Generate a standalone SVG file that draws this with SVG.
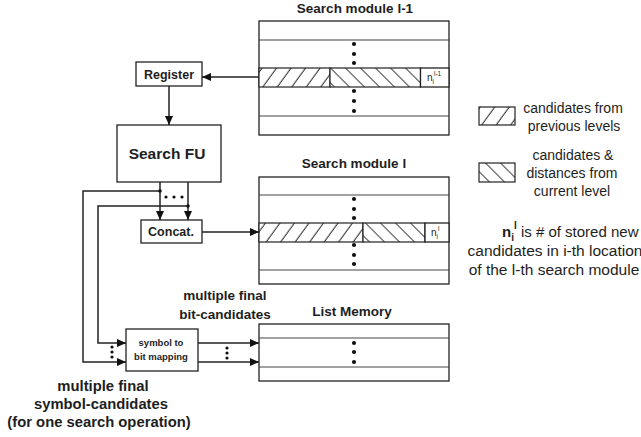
<svg xmlns="http://www.w3.org/2000/svg" width="641" height="437" viewBox="0 0 641 437">
  <style>
    .ln { fill: none; stroke: #222; stroke-width: 1.5; }
    .row { fill: none; stroke: #444; stroke-width: 1.2; }
    .box { fill: #fff; stroke: #222; stroke-width: 1.3; }
    .b { font-family: "Liberation Sans", Arial, sans-serif; font-weight: bold; fill: #1e1e1e; }
    .r { font-family: "Liberation Sans", Arial, sans-serif; fill: #1e1e1e; }
    .dot { fill: #111; }
    .hf { fill: url(#hatchFwd); stroke: #222; stroke-width: 1.2; }
    .hb { fill: url(#hatchBack); stroke: #222; stroke-width: 1.2; }
  </style>
  <defs>
    <pattern id="hatchFwd" patternUnits="userSpaceOnUse" width="14.5" height="20" patternTransform="skewX(-36)">
      <rect width="14.5" height="20" fill="#fff"/>
      <line x1="7" y1="0" x2="7" y2="20" stroke="#222" stroke-width="1.2"/>
    </pattern>
    <pattern id="hatchBack" patternUnits="userSpaceOnUse" width="15" height="20" patternTransform="skewX(45)">
      <rect width="15" height="20" fill="#fff"/>
      <line x1="7.5" y1="0" x2="7.5" y2="20" stroke="#222" stroke-width="1.2"/>
    </pattern>
    <marker id="arr" viewBox="0 0 10 10" refX="10" refY="5" markerWidth="9" markerHeight="8" markerUnits="userSpaceOnUse" orient="auto" preserveAspectRatio="none">
      <path d="M0,0 L10,5 L0,10 Z" fill="#111"/>
    </marker>
  </defs>

  <!-- Search module l-1 -->
  <g id="module-prev">
    <text class="b" x="355" y="13" font-size="13.5" text-anchor="middle">Search module l-1</text>
    <rect class="box" x="259" y="21" width="190" height="114"/>
    <line class="row" x1="259" y1="40" x2="449" y2="40"/>
    <line class="row" x1="259" y1="116" x2="449" y2="116"/>
    <rect class="hf" x="259" y="68" width="71" height="19"/>
    <rect class="hb" x="330" y="68" width="90.5" height="19"/>
    <rect class="box" x="420.5" y="68" width="28.5" height="19" stroke-width="1.2"/>
    <text class="r" x="427" y="81" font-size="10" fill="#444">n<tspan font-size="6.5" dy="2.5">i</tspan><tspan font-size="6.5" dy="-8">l-1</tspan></text>
    <circle class="dot" cx="354" cy="44" r="2.1"/>
    <circle class="dot" cx="354" cy="54" r="2.1"/>
    <circle class="dot" cx="354" cy="63" r="2.1"/>
    <circle class="dot" cx="354" cy="91" r="2.1"/>
    <circle class="dot" cx="354" cy="101" r="2.1"/>
    <circle class="dot" cx="354" cy="111" r="2.1"/>
  </g>

  <!-- Search module l -->
  <g id="module-cur">
    <text class="b" x="354" y="168" font-size="13.5" text-anchor="middle">Search module l</text>
    <rect class="box" x="259" y="177" width="190" height="107"/>
    <line class="row" x1="259" y1="195" x2="449" y2="195"/>
    <line class="row" x1="259" y1="270" x2="449" y2="270"/>
    <rect class="hf" x="259" y="223" width="104" height="19"/>
    <rect class="hb" x="363" y="223" width="62" height="19"/>
    <rect class="box" x="425" y="223" width="24" height="19" stroke-width="1.2"/>
    <text class="r" x="431" y="236" font-size="10" fill="#444">n<tspan font-size="6.5" dy="2.5">i</tspan><tspan font-size="6.5" dy="-8">l</tspan></text>
    <circle class="dot" cx="354" cy="199" r="2.1"/>
    <circle class="dot" cx="354" cy="209" r="2.1"/>
    <circle class="dot" cx="354" cy="218" r="2.1"/>
    <circle class="dot" cx="354" cy="245" r="2.1"/>
    <circle class="dot" cx="354" cy="255" r="2.1"/>
    <circle class="dot" cx="354" cy="264" r="2.1"/>
  </g>

  <!-- List memory -->
  <g id="list-memory">
    <text class="b" x="352" y="316" font-size="13.5" text-anchor="middle">List Memory</text>
    <rect class="box" x="259" y="324" width="190" height="57"/>
    <line class="row" x1="259" y1="338" x2="449" y2="338"/>
    <line class="row" x1="259" y1="367" x2="449" y2="367"/>
    <circle class="dot" cx="354" cy="343" r="2.1"/>
    <circle class="dot" cx="354" cy="352" r="2.1"/>
    <circle class="dot" cx="354" cy="362" r="2.1"/>
  </g>

  <g id="register">
    <rect class="box" x="136" y="62" width="66" height="24"/>
    <text class="b" x="169" y="78.5" font-size="12.5" text-anchor="middle">Register</text>
  </g>

  <g id="search-fu">
    <rect class="box" x="117" y="125" width="104" height="57"/>
    <text class="b" x="167" y="159" font-size="15.5" text-anchor="middle">Search FU</text>
  </g>

  <g id="concat">
    <rect class="box" x="141" y="220" width="61" height="23"/>
    <text class="b" x="171" y="235.5" font-size="12.5" text-anchor="middle">Concat.</text>
  </g>

  <g id="symbol-to-bit">
    <rect class="box" x="126" y="329" width="72" height="42"/>
    <text class="b" x="161" y="346" font-size="9.5" text-anchor="middle">symbol to</text>
    <text class="b" x="161" y="359.5" font-size="9.5" text-anchor="middle">bit mapping</text>
  </g>

  <!-- Connectors -->
  <g id="connectors">
    <line class="ln" x1="259" y1="77" x2="202" y2="77" stroke-width="1.9" marker-end="url(#arr)"/>
    <line class="ln" x1="169" y1="86" x2="169" y2="125" stroke-width="1.9" marker-end="url(#arr)"/>
    <line class="ln" x1="160" y1="182" x2="160" y2="220" stroke-width="1.2" marker-end="url(#arr)"/>
    <line class="ln" x1="188" y1="182" x2="188" y2="220" stroke-width="1.2" marker-end="url(#arr)"/>
    <polyline class="ln" points="160,191 83,191 83,362 126,362" stroke-width="1.2" marker-end="url(#arr)"/>
    <polyline class="ln" points="188,206 98,206 98,343 126,343" stroke-width="1.2" marker-end="url(#arr)"/>
    <circle class="dot" cx="160" cy="191" r="1.8"/>
    <circle class="dot" cx="188" cy="206" r="1.8"/>
    <circle class="dot" cx="166" cy="197" r="1.6"/>
    <circle class="dot" cx="174" cy="197" r="1.6"/>
    <circle class="dot" cx="182" cy="197" r="1.6"/>
    <line class="ln" x1="202" y1="232" x2="259" y2="232" stroke-width="1.9" marker-end="url(#arr)"/>
    <line class="ln" x1="198" y1="343" x2="259" y2="343" stroke-width="1.2" marker-end="url(#arr)"/>
    <line class="ln" x1="198" y1="362" x2="259" y2="362" stroke-width="1.2" marker-end="url(#arr)"/>
    <circle class="dot" cx="112" cy="347" r="1.6"/>
    <circle class="dot" cx="112" cy="352" r="1.6"/>
    <circle class="dot" cx="112" cy="357" r="1.6"/>
    <circle class="dot" cx="227" cy="348" r="1.6"/>
    <circle class="dot" cx="227" cy="353" r="1.6"/>
    <circle class="dot" cx="227" cy="358" r="1.6"/>
  </g>

  <!-- Labels -->
  <g id="bit-label">
    <text class="b" x="225" y="300" font-size="13.5" text-anchor="middle">multiple final</text>
    <text class="b" x="225" y="319" font-size="13.5" text-anchor="middle">bit-candidates</text>
  </g>
  <g id="symbol-label">
    <text class="b" x="103" y="391" font-size="14.8" text-anchor="middle">multiple final</text>
    <text class="b" x="101" y="409" font-size="14.8" text-anchor="middle">symbol-candidates</text>
    <text class="b" x="99" y="427" font-size="14.8" text-anchor="middle">(for one search operation)</text>
  </g>

  <!-- Legend -->
  <g id="legend">
    <rect class="hf" x="479" y="107" width="36" height="18"/>
    <text class="r" x="573" y="113" font-size="14" text-anchor="middle">candidates from</text>
    <text class="r" x="574" y="131" font-size="14" text-anchor="middle">previous levels</text>
    <rect class="hb" x="479" y="163" width="36" height="19"/>
    <text class="r" x="573" y="160" font-size="14" text-anchor="middle">candidates &amp;</text>
    <text class="r" x="572" y="178" font-size="14" text-anchor="middle">distances from</text>
    <text class="r" x="572" y="196" font-size="14" text-anchor="middle">current level</text>
    <text class="r" x="502" y="237" font-size="15"><tspan class="b">n</tspan><tspan class="b" font-size="10" dy="4">i</tspan><tspan class="b" font-size="10" dy="-12">l</tspan><tspan dy="8">  is # of stored new</tspan></text>
    <text class="r" x="555" y="256" font-size="15.5" text-anchor="middle">candidates in i-th location</text>
    <text class="r" x="554" y="275" font-size="15.5" text-anchor="middle">of the l-th search module</text>
  </g>
</svg>
